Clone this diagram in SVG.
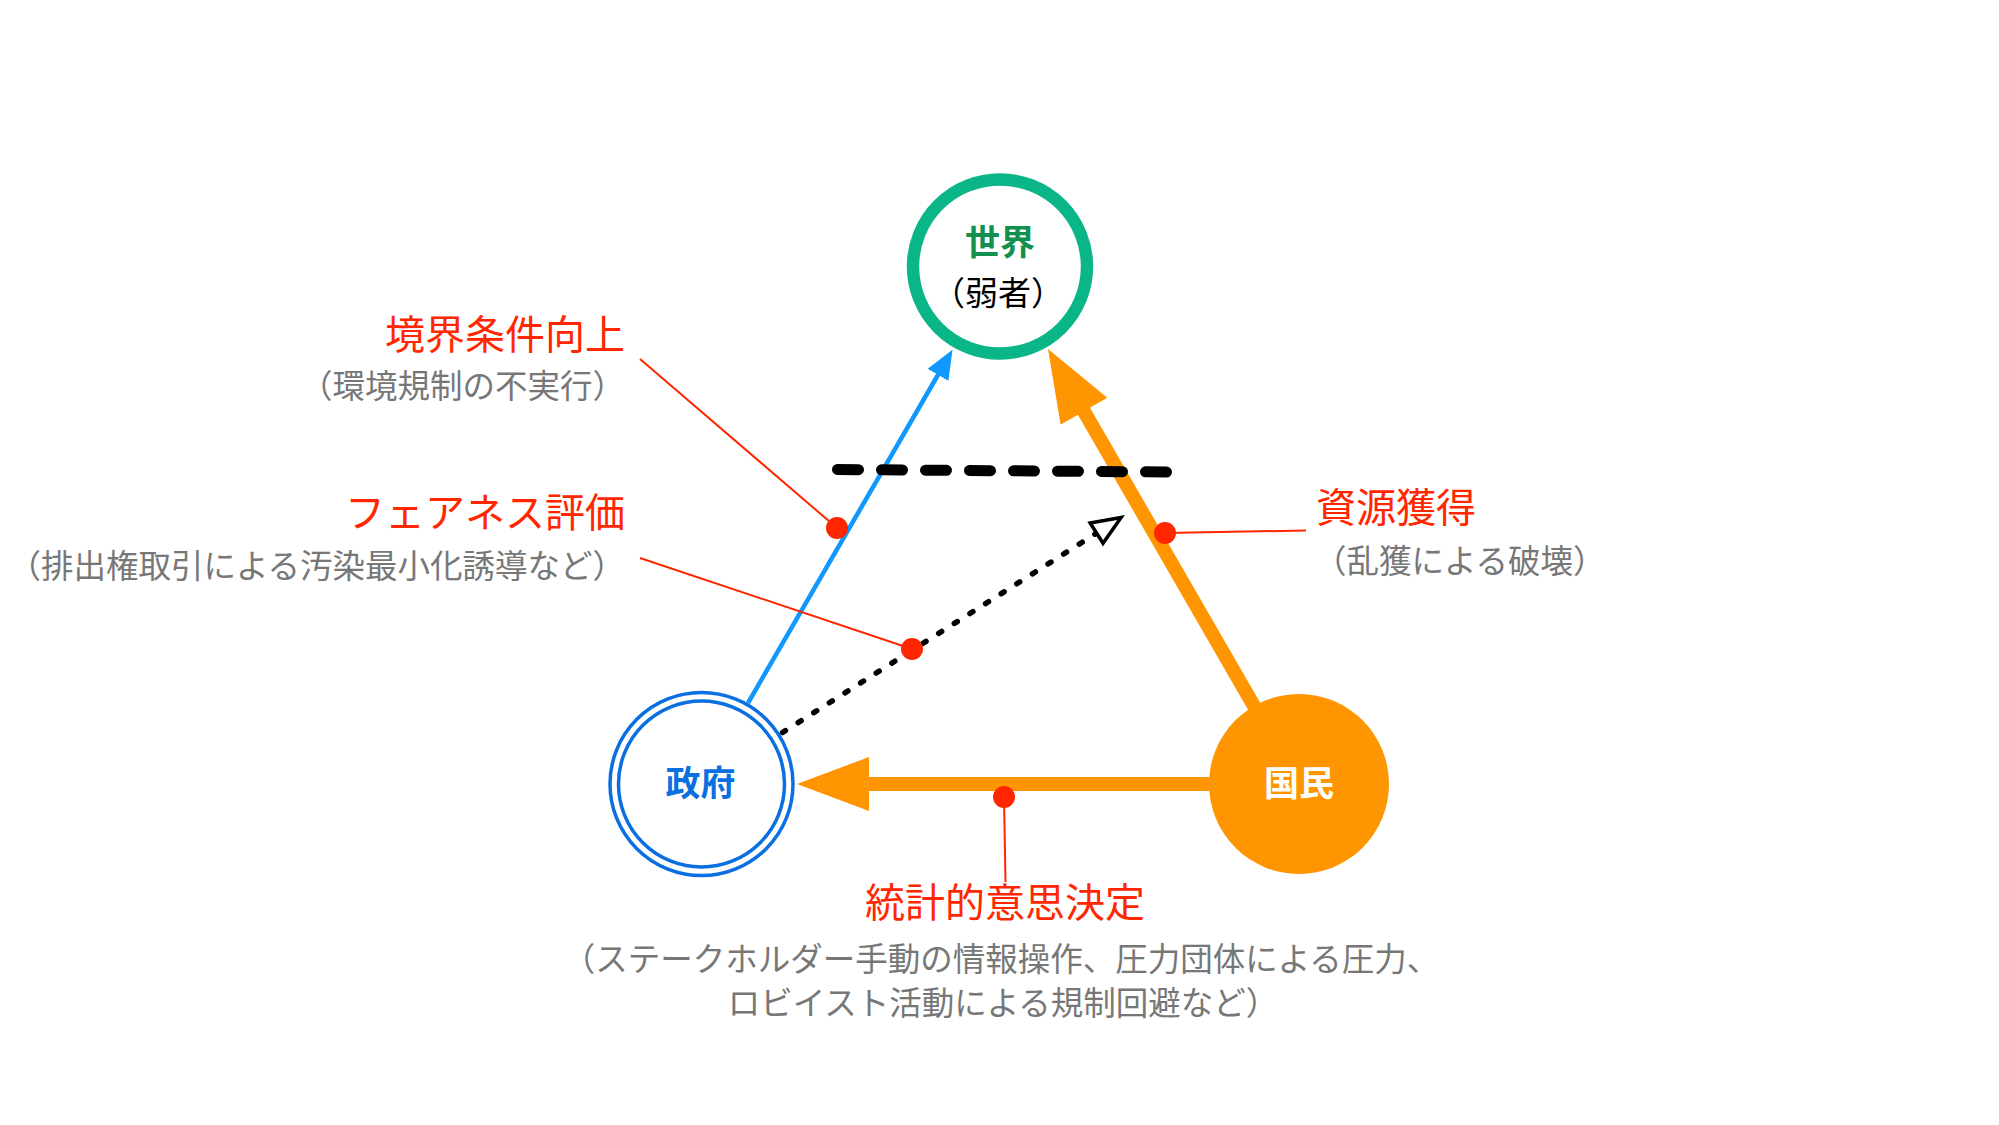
<svg xmlns="http://www.w3.org/2000/svg" width="1999" height="1125" viewBox="0 0 1999 1125">
<style>
text{font-family:"Noto Sans CJK JP","Noto Sans",sans-serif;}
.head{font-size:40px;fill:#ff2600;}
.sub{font-size:32.5px;fill:#777777;}
.node{font-size:35px;font-weight:bold;text-anchor:middle;}
.leader{stroke:#ff2600;stroke-width:2;fill:none;}
.dot{fill:#ff2600;}
.orange{stroke:#ff9500;stroke-width:14;fill:none;}
</style>
<defs>
<marker id="arrOrange" markerUnits="userSpaceOnUse" viewBox="0 0 72 54" markerWidth="72" markerHeight="54" refX="1" refY="27" orient="auto">
<path d="M0,0 L72,27 L0,54 z" fill="#ff9500"/>
</marker>
<marker id="arrBlue" markerUnits="userSpaceOnUse" viewBox="0 0 29 24" markerWidth="29" markerHeight="24" refX="1" refY="12" orient="auto">
<path d="M0,0 L29,12 L0,24 z" fill="#1098ff"/>
</marker>
<marker id="arrOpen" markerUnits="userSpaceOnUse" viewBox="-4 -4 40 32" markerWidth="40" markerHeight="32" refX="0" refY="12" orient="auto">
<path d="M0,0 L29,12 L0,24 z" fill="#ffffff" stroke="#000000" stroke-width="3.5" stroke-linejoin="miter" stroke-dasharray="none"/>
</marker>
</defs>
<rect width="1999" height="1125" fill="#ffffff"/>

<g id="connectors">
<line x1="748" y1="703" x2="938.5" y2="374" stroke="#1098ff" stroke-width="4.5" marker-end="url(#arrBlue)"/>
<line class="orange" x1="1299" y1="784" x2="1083.5" y2="410.5" marker-end="url(#arrOrange)"/>
<line class="orange" x1="1299" y1="784" x2="868" y2="784" marker-end="url(#arrOrange)"/>
<line x1="782.5" y1="732.5" x2="1096.6" y2="533.1" stroke="#000000" stroke-width="5.5" stroke-linecap="round" stroke-dasharray="3.5 15" marker-end="url(#arrOpen)"/>
</g>

<g id="threshold">
<line x1="837.5" y1="469.5" x2="1166.5" y2="472" stroke="#000000" stroke-width="11" stroke-linecap="round" stroke-dasharray="21 23"/>
</g>

<g id="node-world">
<circle cx="1000" cy="266.5" r="87" fill="#ffffff" stroke="#0ab587" stroke-width="12.4"/>
<text class="node" x="1000" y="254.5" fill="#12904f">世界</text>
<text x="998" y="304.5" font-size="33" text-anchor="middle" fill="#000000">（弱者）</text>
</g>

<g id="node-gov">
<circle cx="701.5" cy="784" r="91.5" fill="#ffffff" stroke="#0a6fe0" stroke-width="3.5"/>
<circle cx="701.5" cy="784" r="83" fill="none" stroke="#0a6fe0" stroke-width="3.5"/>
<text class="node" x="700.5" y="795.5" fill="#0a6fe0">政府</text>
</g>

<g id="node-people">
<circle cx="1299" cy="784" r="90" fill="#ff9500"/>
<text class="node" x="1299" y="795.5" fill="#ffffff">国民</text>
</g>

<g id="annotations">
<line class="leader" x1="640" y1="359" x2="837" y2="528"/>
<line class="leader" x1="640" y1="558" x2="912" y2="649"/>
<line class="leader" x1="1306" y1="530.5" x2="1165" y2="533"/>
<line class="leader" x1="1005.5" y1="882" x2="1004" y2="797"/>
<circle class="dot" cx="837" cy="528" r="11"/>
<circle class="dot" cx="912" cy="649" r="11"/>
<circle class="dot" cx="1165" cy="533" r="11"/>
<circle class="dot" cx="1004" cy="797" r="11"/>

<text class="head" x="625" y="349" text-anchor="end">境界条件向上</text>
<text class="sub" x="625" y="398" text-anchor="end">（環境規制の不実行）</text>
<text class="head" x="625" y="527" text-anchor="end">フェアネス評価</text>
<text class="sub" x="625" y="578" text-anchor="end">（排出権取引による汚染最小化誘導など）</text>
<text class="head" x="1316" y="522">資源獲得</text>
<text class="sub" x="1314" y="573">（乱獲による破壊）</text>
<text class="head" x="1005" y="917" text-anchor="middle">統計的意思決定</text>
<text class="sub" x="1001" y="971" text-anchor="middle">（ステークホルダー手動の情報操作、圧力団体による圧力、</text>
<text class="sub" x="1003" y="1015" text-anchor="middle">ロビイスト活動による規制回避など）</text>
</g>
</svg>
